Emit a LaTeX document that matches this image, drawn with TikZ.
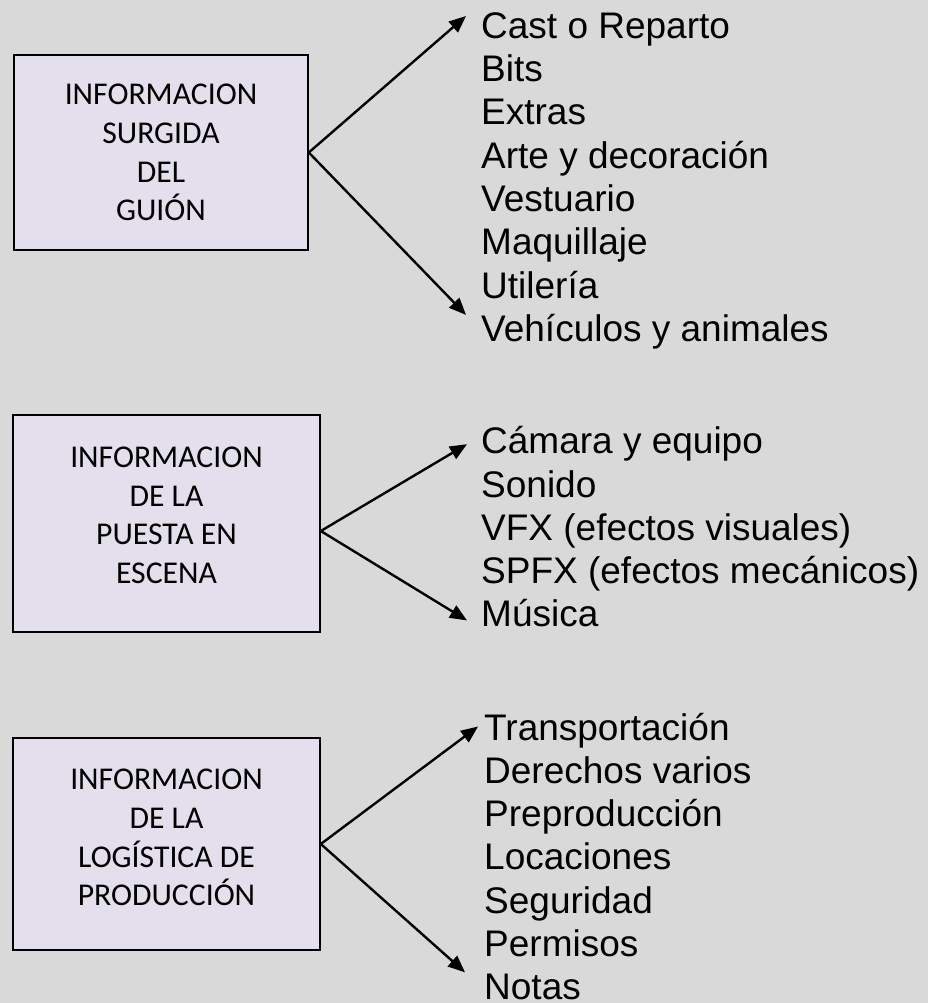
\documentclass[tikz,border=0pt]{standalone}
\usepackage{fontspec}
\setmainfont{Liberation Sans}
\newfontfamily\boxfont{Carlito}
\usetikzlibrary{arrows.meta, positioning}
\definecolor{sheetgray}{HTML}{D9D9D9}
\definecolor{pastellilac}{HTML}{E4DFEC}

\begin{document}
\begin{tikzpicture}[
    x=1pt, y=-1pt,
    infobox/.style={rectangle, draw, line width=1.6pt, fill=pastellilac, align=center, inner sep=0pt, font=\boxfont\fontsize{31.7}{38.7}\selectfont},
    item/.style={inner sep=0pt, text height=27pt, text depth=8pt, anchor=west, font=\fontsize{37}{42.9}\selectfont},
    itemunder/.style={below right=7.9pt and 0pt of #1.south west},
    arrow/.style={-{Triangle[length=17pt, width=14pt]}, line width=2.4pt},
]

\fill[sheetgray] (0,0) rectangle (928,1003);
\useasboundingbox (0,0) rectangle (928,1003);

% boxes
\node[infobox, minimum width=294pt, minimum height=195pt] (guion) at (161,152.5) {INFORMACION\\SURGIDA\\DEL\\GUIÓN};
\node[infobox, minimum width=307pt, minimum height=217pt] (puesta) at (166.5,523.5) {INFORMACION\\DE LA\\PUESTA EN\\ESCENA\\[-22pt]};
\node[infobox, minimum width=307pt, minimum height=212pt] (logistica) at (166.5,844) {INFORMACION\\DE LA\\LOGÍSTICA DE\\PRODUCCIÓN\\[-26pt]};

% first list
\node[item] (cast) at (481,28.8) {Cast o Reparto};
\node[item, itemunder=cast] (bits) {Bits};
\node[item, itemunder=bits] (extras) {Extras};
\node[item, itemunder=extras] (arte) {Arte y decoración};
\node[item, itemunder=arte] (vestuario) {Vestuario};
\node[item, itemunder=vestuario] (maquillaje) {Maquillaje};
\node[item, itemunder=maquillaje] (utileria) {Utilería};
\node[item, itemunder=utileria] (vehiculos) {Vehículos y animales};

% second list
\node[item] (camara) at (481,444.2) {Cámara y equipo};
\node[item, itemunder=camara] (sonido) {Sonido};
\node[item, itemunder=sonido] (vfx) {VFX (efectos visuales)};
\node[item, itemunder=vfx] (spfx) {SPFX (efectos mecánicos)};
\node[item, itemunder=spfx] (musica) {Música};

% third list
\node[item] (transp) at (484,730.5) {Transportación};
\node[item, itemunder=transp] (derechos) {Derechos varios};
\node[item, itemunder=derechos] (preprod) {Preproducción};
\node[item, itemunder=preprod] (locaciones) {Locaciones};
\node[item, itemunder=locaciones] (seguridad) {Seguridad};
\node[item, itemunder=seguridad] (permisos) {Permisos};
\node[item, itemunder=permisos] (notas) {Notas};

\draw[arrow] (guion.east) -- ([xshift=-15pt, yshift=12.8pt]cast.west);
\draw[arrow] (guion.east) -- ([xshift=-15pt, yshift=17pt]vehiculos.west);
\draw[arrow] ([yshift=-7.5pt]puesta.east) -- ([xshift=-14pt]camara.west);
\draw[arrow] ([yshift=-7.5pt]puesta.east) -- ([xshift=-14pt, yshift=-3pt]musica.west);
\draw[arrow] (logistica.east) -- ([xshift=-6pt, yshift=4pt]transp.west);
\draw[arrow] (logistica.east) -- ([xshift=-19pt, yshift=18pt]notas.west);

\end{tikzpicture}
\end{document}
